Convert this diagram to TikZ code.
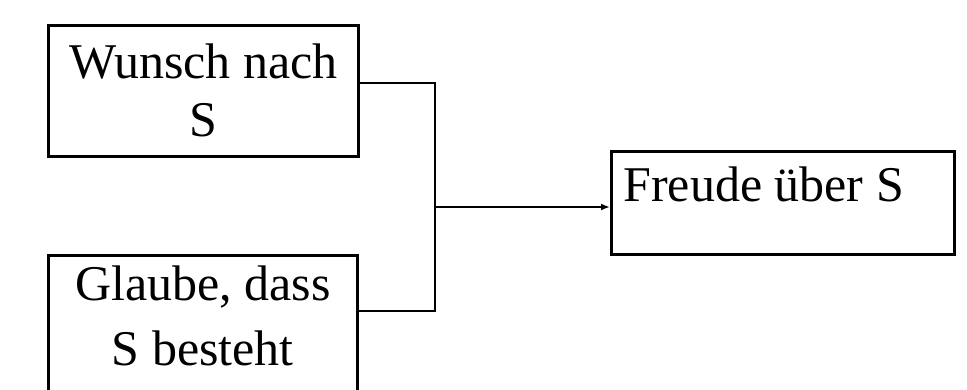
\documentclass[tikz,border=0pt]{standalone}
\usepackage{fontspec}
\setmainfont{Liberation Serif}
\usetikzlibrary{arrows.meta}
\begin{document}
\begin{tikzpicture}[x=1pt,y=-1pt,
  box/.style={draw=black,line width=2.8pt,inner sep=0pt,anchor=north west,
    font=\fontsize{50}{58}\selectfont},
  link/.style={draw=black,line width=2.6pt},
  tip/.style={-{Latex[length=9pt,width=7pt]}}]
  \useasboundingbox (0,0) rectangle (967,389);
  % upper input box
  \node[box,text width=310pt,align=flush center,text height=53pt,text depth=78pt]
    (wunsch) at (47,24) {Wunsch nach\\S};
  % lower input box, runs past the lower edge
  \node[box,text width=309pt,align=flush center,text height=45pt,text depth=110pt,
    font=\fontsize{50}{65}\selectfont]
    (glaube) at (47,254) {Glaube, dass\\S besteht};
  % result box
  \node[box,text width=319pt,inner xsep=12pt,align=flush left,text height=50pt,text depth=53pt]
    (freude) at (610,150) {Freude über S};
  % junction points of the bracket
  \coordinate (jt) at (435,83);
  \coordinate (jb) at (435,311);
  \coordinate (jm) at (435,207);
  \draw[link] (wunsch.east |- jt) -- (jt) -- (jb) -- (glaube.east |- jb);
  \draw[link,tip] (jm) -- (freude.west |- jm);
\end{tikzpicture}
\end{document}
